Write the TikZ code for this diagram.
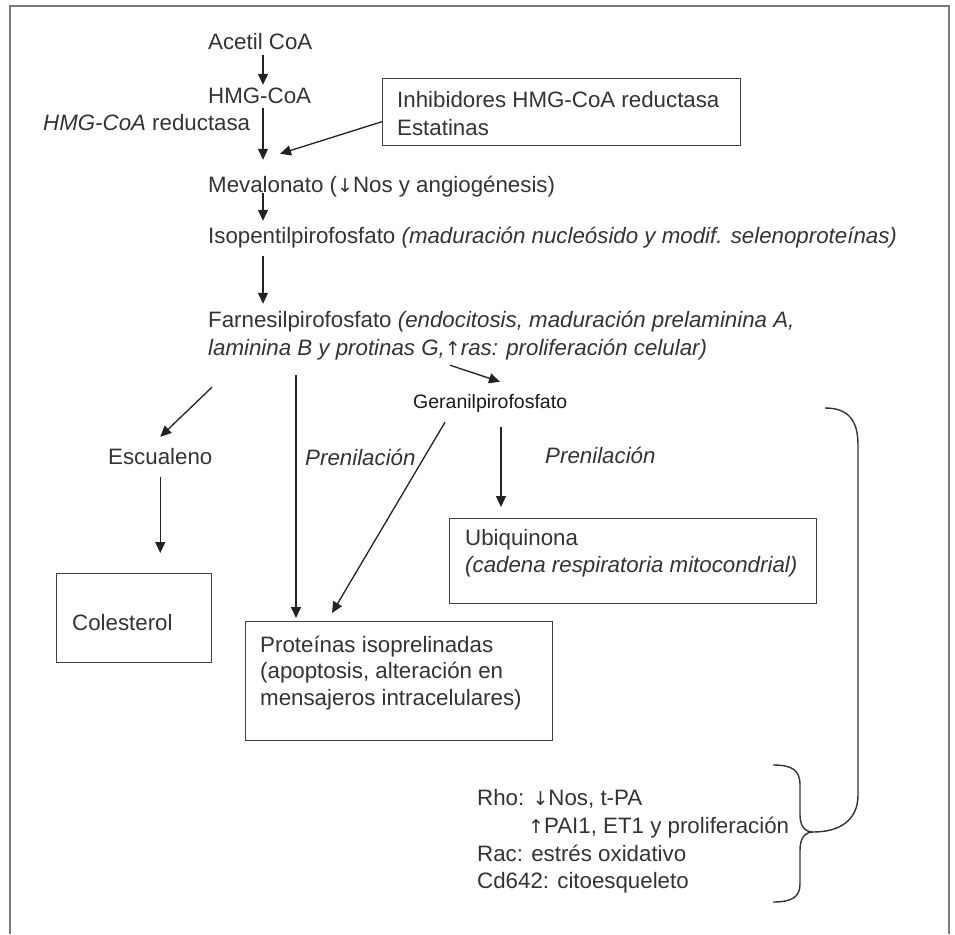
\documentclass[tikz,border=0pt]{standalone}
\usepackage{fontspec}
\setmainfont{Liberation Sans}
\newfontfamily\arrfont{DejaVu Sans}
\newcommand{\dnar}{{\arrfont\fontsize{19}{24}\selectfont ↓}}
\newcommand{\upar}{{\arrfont\fontsize{19}{24}\selectfont ↑}}
\usetikzlibrary{arrows.meta,calc}
\definecolor{txt}{HTML}{333333}
\definecolor{lin}{HTML}{222222}
\definecolor{frm}{HTML}{7A7A7A}
\tikzset{
  t/.style={anchor=base west,inner sep=0pt,text height=16pt,text depth=5pt,text=txt,font=\fontsize{22.3}{27}\selectfont},
  ts/.style={anchor=base west,inner sep=0pt,text height=14pt,text depth=4.5pt,text=black!90,font=\fontsize{19.5}{24}\selectfont},
  box/.style={draw=black!75,line width=1.4pt,anchor=north west,inner sep=0pt},
  arr/.style={draw=lin,line width=1.3pt,-{Triangle[length=11pt,width=10pt]}},
  brace/.style={draw=black!80,line width=1.4pt},
}
\begin{document}
\begin{tikzpicture}[x=1pt,y=-1pt]
\useasboundingbox (0,0) rectangle (955,934);
\draw[frm,line width=2pt] (10,934) -- (10,6) -- (949,6) -- (949,934);
\coordinate (ax) at (263,0);
% main column
\node[t] (acetil) at (208,50) {Acetil CoA};
\node[t] (hmg) at (208,103) {HMG-CoA};
\node[t] (hmgred) at (43,130) {\textit{HMG-CoA} reductasa};
\node[t] (mev) at (208,192) {Mevalonato (\dnar Nos y angiogénesis)};
\node[box,minimum width=358pt,minimum height=67pt] (inhib) at (382,78) {};
\node[t] (inhib1) at (397,107) {Inhibidores HMG-CoA reductasa};
\node[t] (inhib2) at (397,135) {Estatinas};
\node[t] (iso) at (208,243) {Isopentilpirofosfato \textit{(maduración nucleósido y modif. selenoproteínas)}};
\node[t] (farn1) at (208,327) {Farnesilpirofosfato \textit{(endocitosis, maduración prelaminina A,}};
\node[t] (farn2) at (208,355) {\textit{laminina B y protinas G,\upar ras: proliferación celular)}};
\node[ts] (geranil) at (413,408) {Geranilpirofosfato};
\node[t] (escualeno) at (108,464) {Escualeno};
\node[t] (pren1) at (305,465) {\textit{Prenilación}};
\node[t] (pren2) at (545,463) {\textit{Prenilación}};
% boxes
\node[box,minimum width=155pt,minimum height=89pt] (colbox) at (56,573) {};
\node[t] (col) at (72,630) {Colesterol};
\node[box,minimum width=307pt,minimum height=119pt] (protbox) at (245,621) {};
\node[t] (prot1) at (260,652) {Proteínas isoprelinadas};
\node[t] (prot2) at (260,678) {(apoptosis, alteración en};
\node[t] (prot3) at (260,705) {mensajeros intracelulares)};
\node[box,minimum width=367pt,minimum height=85pt] (ubibox) at (449,518) {};
\node[t] (ubi1) at (465,545) {Ubiquinona};
\node[t] (ubi2) at (465,572) {\textit{(cadena respiratoria mitocondrial)}};
% Rho etc
\node[t] (rho) at (477,805) {Rho: \dnar Nos, t-PA};
\node[t] (pai) at (528,833) {\upar PAI1, ET1 y proliferación};
\node[t] (rac) at (477,861) {Rac: estrés oxidativo};
\node[t] (cd) at (477,888) {Cd642: citoesqueleto};
% arrows
\draw[arr,shorten >=2pt] (acetil.south -| ax) -- (hmg.north -| ax);
\draw[arr,shorten >=16pt] (hmg.south -| ax) -- (mev.north -| ax);
\draw[arr] ([yshift=-9.5pt]inhib.west) -- ([xshift=72pt,yshift=22pt]mev.north west);
\draw[arr,shorten <=-4pt,shorten >=6pt] (mev.south -| ax) -- (iso.north -| ax);
\draw[arr,shorten <=8pt,shorten >=7pt] (iso.south -| ax) -- (farn1.north -| ax);
\draw[arr] ([xshift=242pt,yshift=-5pt]farn2.south west) -- ([xshift=87pt,yshift=12pt]geranil.north west);
\draw[arr] ([xshift=4pt,yshift=-27pt]farn2.south west) -- ([yshift=11pt]escualeno.north);
\draw[arr,shorten <=8pt,shorten >=20pt] (escualeno.south) -- (escualeno.south |- colbox.north);
\coordinate (v1) at ([xshift=88pt,yshift=-15pt]farn2.south west);
\draw[arr,shorten >=3pt] (v1) -- (v1 |- protbox.north);
\draw[arr] ([xshift=32pt,yshift=-9.5pt]geranil.south west) -- ([xshift=87pt,yshift=8pt]protbox.north west);
\coordinate (v2) at ([xshift=88pt,yshift=-14.5pt]geranil.south west);
\draw[arr,shorten >=11pt] (v2) -- (v2 |- ubibox.north);
% braces
\draw[brace] (825,408) .. controls (848,408) and (858,420) .. (858,445) -- (858,795) .. controls (858,820) and (840,832) .. (813,832);
\draw[brace] (773,765) .. controls (792,765) and (800,770) .. (800,785) -- (800,815) .. controls (800,826) and (805,832) .. (813,832) .. controls (805,832) and (800,838) .. (800,850) -- (800,884) .. controls (800,897) and (792,902) .. (773,902);
\end{tikzpicture}
\end{document}
